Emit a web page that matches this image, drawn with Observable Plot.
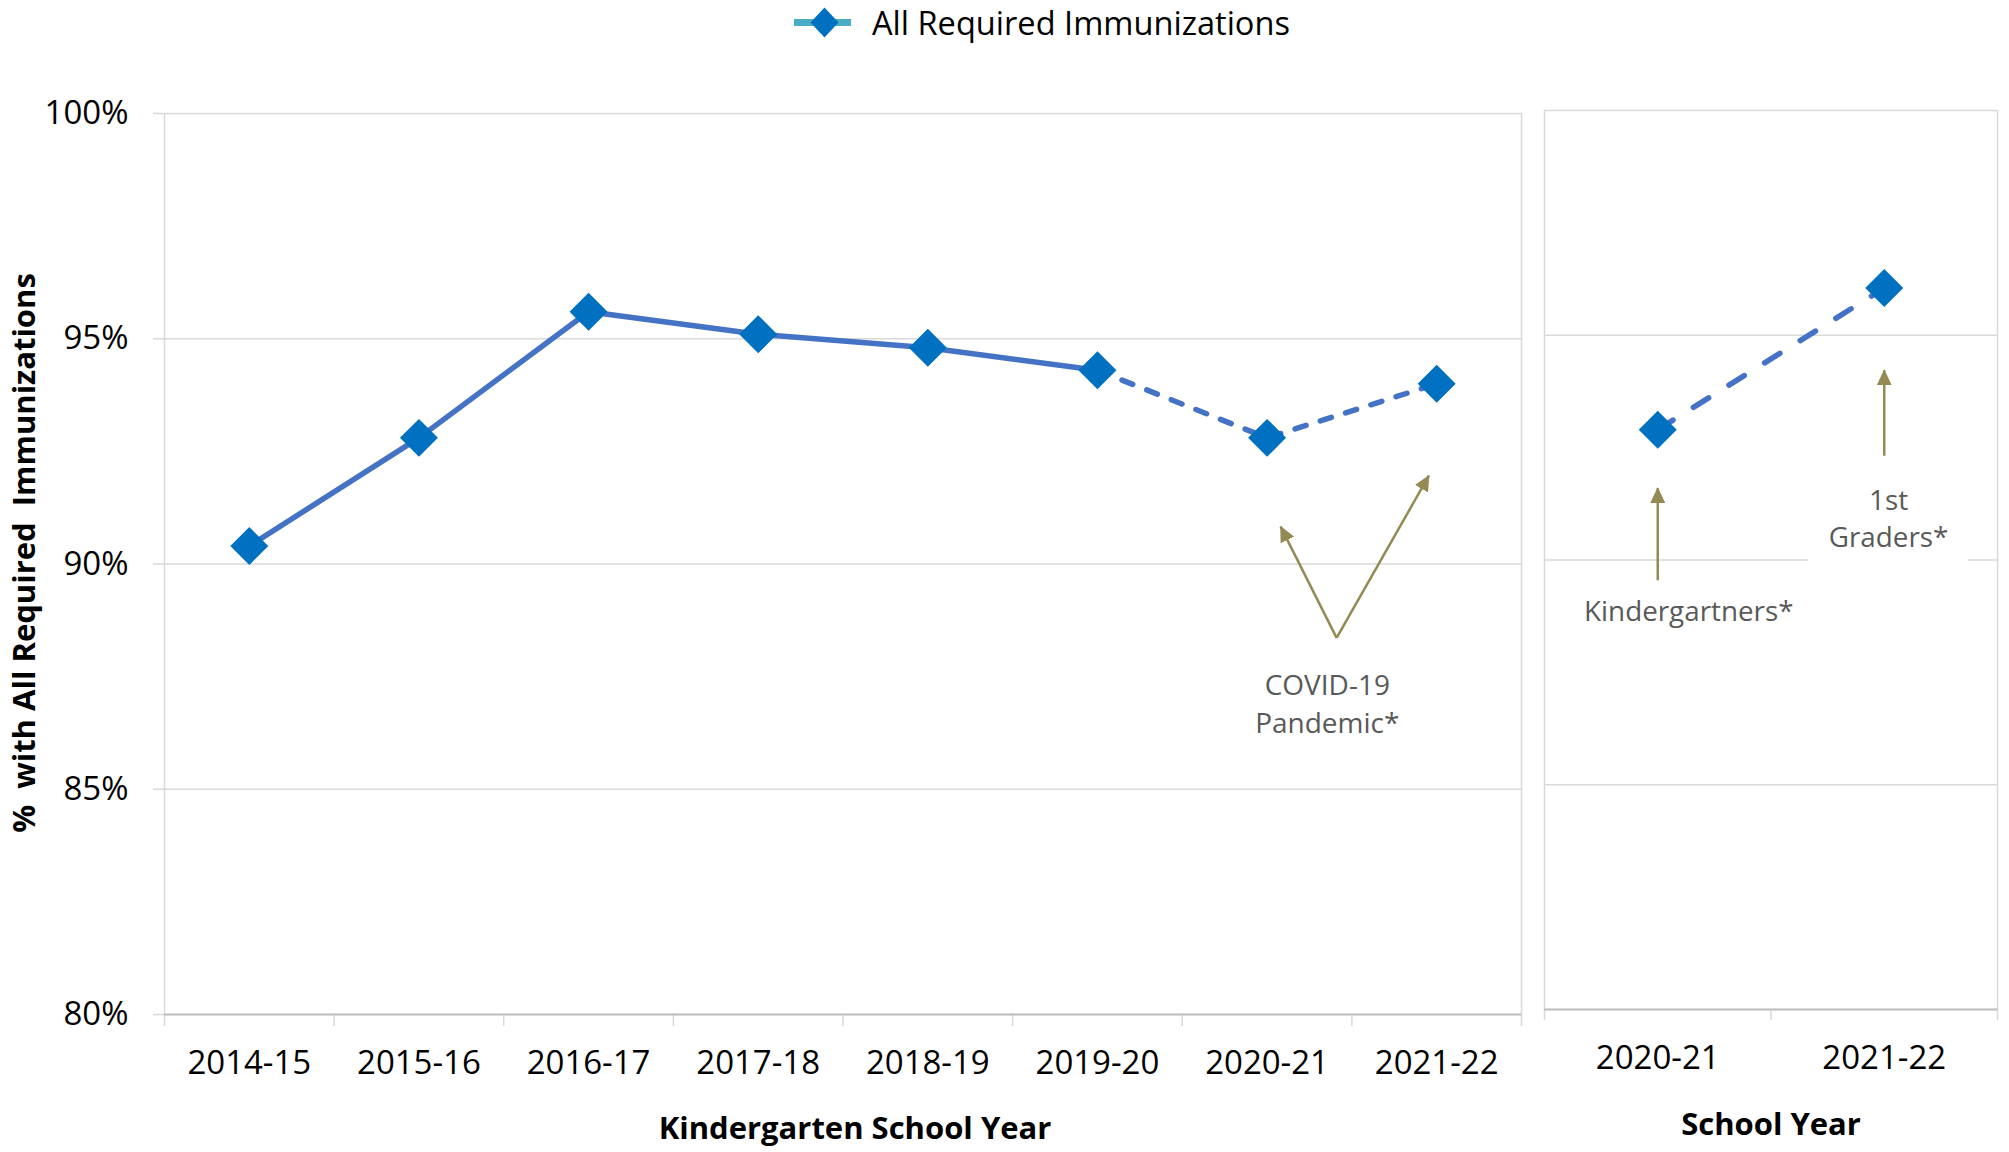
<!DOCTYPE html>
<html><head><meta charset="utf-8">
<script src="https://cdn.jsdelivr.net/npm/d3@7"></script>
<script src="https://cdn.jsdelivr.net/npm/@observablehq/plot@0.6"></script>
<style>
body{margin:0;background:#fff;}
#wrap{position:relative;width:2009px;height:1152px;overflow:hidden;font-family:"Open Sans",sans-serif;background:#fff;}
#wrap svg{position:absolute;top:0;}
#wrap svg text{white-space:pre;}
</style></head><body><div id="wrap"></div>
<script>
// ---------- data ----------
const kYears = ["2014-15","2015-16","2016-17","2017-18","2018-19","2019-20","2020-21","2021-22"];
const kRates = [90.4, 92.8, 95.6, 95.1, 94.8, 94.3, 92.8, 94.0];
const solidCount = 6;               // 2014-15 .. 2019-20 drawn solid, the rest dashed
const sYears = ["2020-21","2021-22"];
const sGroups = ["Kindergartners*","1st\nGraders*"];
const sRates = [92.9, 96.05];
const yTicks = [80, 85, 90, 95, 100];
const gridTicks = [85, 90, 95];
const legendLabel = "All Required Immunizations";
const kTitle = "Kindergarten School Year";
const sTitle = "School Year";
const yTitle = "%  with All Required  Immunizations";
const covidLabel = "COVID-19\nPandemic*";
// annotation anchors in data space (index position, percent)
const covidArrows = [
  {x1: 6.41, y1: 88.36, x2: 6.08, y2: 90.83},
  {x1: 6.41, y1: 88.36, x2: 6.954, y2: 91.96}
];
const covidText = [{x: 6.355, y: 86.95, text: covidLabel}];
const sArrows = [
  {x1: 0, y1: 89.55, x2: 0, y2: 91.6},
  {x1: 1, y1: 92.32, x2: 1, y2: 94.22}
];
const sText = [
  {x: 0.137, y: 88.91, text: sGroups[0]},
  {x: 1.019, y: 90.97, text: sGroups[1]}
];
const sMask = [{x1: 0.666, x2: 1.372, y1: 89.86, y2: 91.99}];

// ---------- styles ----------
const lineColor = "#4472C4", dotColor = "#0070C0", olive = "#948A54", grid = "#D9D9D9", note = "#595959";
const kData = kYears.map((year, i) => ({i, year, rate: kRates[i]}));
const sData = sYears.map((year, i) => ({i, year, rate: sRates[i]}));

function addHead(svg, id) {
  const s = d3.select(svg);
  const m = s.insert("defs", ":first-child").append("marker")
    .attr("id", id).attr("viewBox", "0 0 16 15").attr("refX", 15).attr("refY", 7.5)
    .attr("markerWidth", 16).attr("markerHeight", 15).attr("markerUnits", "userSpaceOnUse")
    .attr("orient", "auto");
  m.append("path").attr("d", "M0,0L16,7.5L0,15Z").attr("fill", olive);
  s.selectAll('g[aria-label="link"] path').attr("marker-end", `url(#${id})`);
}

const baseStyle = {fontFamily: '"Open Sans", sans-serif', fontSize: "33px", color: "#000", background: "transparent", overflow: "visible"};

// ---------- left panel ----------
const left = Plot.plot({
  width: 1530, height: 1152,
  marginLeft: 164, marginRight: 9, marginTop: 113, marginBottom: 138,
  style: baseStyle,
  x: {type: "linear", domain: [-0.5, kYears.length - 0.5], axis: null},
  y: {type: "linear", domain: [80, 100], axis: null},
  marks: [
    Plot.gridY(gridTicks, {stroke: grid, strokeOpacity: 1, strokeWidth: 1.5}),
    Plot.frame({stroke: grid, strokeWidth: 1.5}),
    Plot.axisY({ticks: yTicks, tickSize: 11, tickPadding: 25, stroke: grid, strokeWidth: 1.5, tickFormat: d => d + "%", fill: "#000", label: null}),
    Plot.axisX({ticks: d3.range(-0.5, kYears.length, 1), tickSize: 12, stroke: grid, strokeWidth: 1.5, tickFormat: () => "", label: null}),
    Plot.ruleY([80], {stroke: "#BFBFBF", strokeWidth: 2}),
    Plot.axisX({ticks: d3.range(kYears.length), tickSize: 0, tickPadding: 36, tickFormat: i => kYears[i], fill: "#000", label: null}),
    Plot.text([kTitle], {text: d => d, frameAnchor: "bottom", lineAnchor: "middle", dx: 12, dy: 115, fontWeight: "bold", fontSize: 31, fill: "#000"}),
    Plot.text([yTitle], {text: d => d, frameAnchor: "left", textAnchor: "middle", lineAnchor: "middle", dx: -139, dy: -11, rotate: -90, fontWeight: "bold", fontSize: 31, fill: "#000"}),
    Plot.line(kData.slice(0, solidCount), {x: "i", y: "rate", stroke: lineColor, strokeWidth: 5.5, strokeLinejoin: "round"}),
    Plot.line(kData.slice(solidCount - 1), {x: "i", y: "rate", stroke: lineColor, strokeWidth: 5.5, strokeDasharray: "11.5,15", strokeLinecap: "round"}),
    Plot.link(covidArrows, {x1: "x1", y1: "y1", x2: "x2", y2: "y2", stroke: olive, strokeWidth: 2.5}),
    Plot.text(covidText, {x: "x", y: "y", text: "text", fill: note, fontSize: 28, lineHeight: 1.36}),
    Plot.dot(kData, {x: "i", y: "rate", symbol: "diamond2", r: 17.1, fill: dotColor})
  ]
});
left.style.left = "0px";
addHead(left, "headL");

// ---------- right panel ----------
const right = Plot.plot({
  width: 479, height: 1152,
  marginLeft: 14, marginRight: 12, marginTop: 110, marginBottom: 143,
  style: baseStyle,
  x: {type: "linear", domain: [-0.5, sYears.length - 0.5], axis: null},
  y: {type: "linear", domain: [80, 100], axis: null},
  marks: [
    Plot.gridY(gridTicks, {stroke: grid, strokeOpacity: 1, strokeWidth: 1.5}),
    Plot.frame({stroke: grid, strokeWidth: 1.5}),
    Plot.axisX({ticks: d3.range(-0.5, sYears.length, 1), tickSize: 11, stroke: grid, strokeWidth: 1.5, tickFormat: () => "", label: null}),
    Plot.ruleY([80], {stroke: "#BFBFBF", strokeWidth: 2}),
    Plot.axisX({ticks: d3.range(sYears.length), tickSize: 0, tickPadding: 36, tickFormat: i => sYears[i], fill: "#000", label: null}),
    Plot.text([sTitle], {text: d => d, frameAnchor: "bottom", lineAnchor: "middle", dy: 116, fontWeight: "bold", fontSize: 31, fill: "#000"}),
    Plot.rect(sMask, {x1: "x1", x2: "x2", y1: "y1", y2: "y2", fill: "#fff"}),
    Plot.line(sData, {x: "i", y: "rate", stroke: lineColor, strokeWidth: 5.5, strokeDasharray: "18,24", strokeLinecap: "round"}),
    Plot.link(sArrows, {x1: "x1", y1: "y1", x2: "x2", y2: "y2", stroke: olive, strokeWidth: 2.5}),
    Plot.text(sText, {x: "x", y: "y", text: "text", fill: note, fontSize: 27.8, lineHeight: 1.36}),
    Plot.dot(sData, {x: "i", y: "rate", symbol: "diamond2", r: 17.1, fill: dotColor})
  ]
});
right.style.left = "1530px";
addHead(right, "headR");

const wrap = document.getElementById("wrap");
wrap.appendChild(left);
wrap.appendChild(right);

// ---------- legend ----------
const lg = d3.select(wrap).append("svg")
  .attr("width", 540).attr("height", 54)
  .style("left", "780px").style("top", "0px");
lg.append("line").attr("x1", 14).attr("x2", 71).attr("y1", 22.5).attr("y2", 22.5)
  .attr("stroke", "#4BACC6").attr("stroke-width", 7);
lg.append("path").attr("d", "M44.5,7.5L58.5,22.5L44.5,37.5L30.5,22.5Z").attr("fill", dotColor);
lg.append("text").attr("x", 92).attr("y", 35).attr("font-family", '"Open Sans", sans-serif')
  .attr("font-size", 32.6).attr("fill", "#000").text(legendLabel);
</script>
</body></html>
